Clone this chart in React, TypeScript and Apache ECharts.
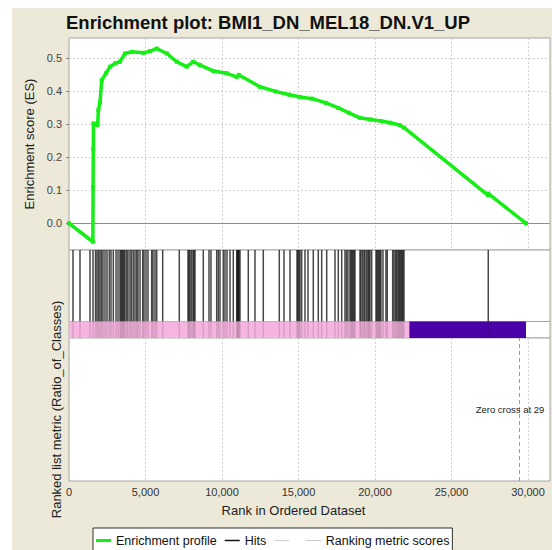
import React, { useEffect, useRef } from "react";
import * as echarts from "echarts";

const FONT = "'Liberation Sans', Arial, Helvetica, sans-serif";

const chartTitle = "Enrichment plot: BMI1_DN_MEL18_DN.V1_UP";
const rankAxisName = "Rank in Ordered Dataset";
const esAxisName = "Enrichment score (ES)";
const metricAxisName = "Ranked list metric (Ratio_of_Classes)";
const zeroCrossText = "Zero cross at 29";

// rank axis
const rankMax = 31440;
const rankStep = 5000;

// enrichment score axis
const esMin = -0.081;
const esMax = 0.562;
const esTicks = [0, 0.1, 0.2, 0.3, 0.4, 0.5];

// running enrichment score
const esRanks = [
  0, 1560, 1575, 1585, 1600, 1870, 1920, 2030, 2140, 2420, 2680, 3010, 3330,
  3660, 4100, 4860, 5300, 5730, 6390, 7040, 7690, 8125, 8560, 9430, 10310,
  10960, 11100, 12480, 13500, 14400, 15100, 15900, 16800, 17600, 18300, 19000,
  19700, 20400, 21000, 21600, 21900, 27400, 27410, 29870,
];
const esValues = [
  0, -0.056, 0.11, 0.225, 0.303, 0.298, 0.343, 0.368, 0.434, 0.455, 0.475,
  0.485, 0.49, 0.515, 0.52, 0.517, 0.522, 0.53, 0.515, 0.49, 0.475, 0.49, 0.48,
  0.462, 0.455, 0.444, 0.45, 0.414, 0.4, 0.39, 0.383, 0.378, 0.365, 0.35, 0.335,
  0.32, 0.315, 0.31, 0.305, 0.298, 0.29, 0.085, 0.09, 0,
];

// positions of gene set members in the ranked list
const hitRanks = [
  261, 719, 1373, 1569, 1732, 1830, 1928, 2026, 2124, 2222, 2353, 2484, 2634,
  2745, 2895, 3072, 3203, 3333, 3399, 3464, 3529, 3595, 3660, 3771, 3856, 3987,
  4085, 4203, 4314, 4425, 4510, 4641, 4817, 4902, 5033, 5163, 5405, 5490, 5621,
  5732, 6124, 7209, 7778, 7843, 7909, 8007, 8105, 8170, 8235, 8778, 9150, 9281,
  9654, 9758, 9869, 10085, 10196, 10327, 10523, 10739, 10961, 11013, 11065,
  11111, 11177, 11719, 12157, 12699, 13745, 14052, 14445, 14902, 14967, 15033,
  15098, 15209, 15425, 15621, 15968, 16294, 16517, 16844, 17386, 17602, 17824,
  18039, 18137, 18235, 18366, 18432, 18497, 18562, 18628, 18693, 19020, 19085,
  19183, 19281, 19347, 19458, 19543, 19608, 19673, 19784, 20066, 20131, 20196,
  20262, 20327, 20392, 20523, 20719, 20804, 21157, 21242, 21340, 21418, 21503,
  21569, 21634, 21700, 21765, 21830, 21896, 27405,
];

// phenotype class bands along the ranked list
const classFrom = [0, 22245];
const classTo = [22245, 29870];

const zeroCrossRank = 29412;

const legendNames = ["Enrichment profile", "Hits", " ", "Ranking metric scores"];

const GREEN = "#16ef16";
const BORDER = "#a4a4a4";
const GRID_LINE = "#d0d0d0";
const CLASS_COLORS = ["#f6b5e0", "#4a02a8"];

function buildOption(): any {
  const grids = [
    { top: 38, height: 212 },
    { top: 250, height: 71.5 },
    { top: 321.5, height: 16.5 },
    { top: 338, height: 143 },
  ].map((g) => ({
    left: 69,
    width: 481,
    top: g.top,
    height: g.height,
    show: true,
    backgroundColor: "#ffffff",
    borderColor: BORDER,
    borderWidth: 1,
    containLabel: false,
    outerBoundsMode: "none",
  }));

  const hiddenX = (i: number, split: boolean) => ({
    gridIndex: i,
    type: "value",
    min: 0,
    max: rankMax,
    interval: rankStep,
    axisLine: { show: false },
    axisTick: { show: false },
    axisLabel: { show: false },
    splitLine: {
      show: split,
      lineStyle: { color: GRID_LINE, type: [2, 2], width: 1 },
    },
  });

  const xAxes = [
    hiddenX(0, true),
    hiddenX(1, false),
    hiddenX(2, false),
    {
      ...hiddenX(3, true),
      axisLabel: {
        show: true,
        showMaxLabel: false,
        margin: 5,
        fontFamily: FONT,
        fontSize: 11,
        color: "#333",
        formatter: (v: number) => v.toLocaleString("en-US"),
      },
      name: rankAxisName,
      nameLocation: "middle",
      nameGap: 23,
      nameTextStyle: {
        fontFamily: FONT,
        fontSize: 13,
        color: "#222",
        padding: [0, 32, 0, 0],
      },
    },
  ];

  const yAxes = [
    {
      gridIndex: 0,
      type: "value",
      min: esMin,
      max: esMax,
      axisLine: { show: false },
      axisTick: {
        show: true,
        length: 3,
        customValues: esTicks,
        lineStyle: { color: "#888" },
      },
      axisLabel: {
        show: true,
        customValues: esTicks,
        margin: 7,
        fontFamily: FONT,
        fontSize: 11,
        color: "#444",
        formatter: (v: number) => v.toFixed(1),
      },
      splitLine: { show: false },
      name: esAxisName,
      nameLocation: "middle",
      nameGap: 30,
      nameTextStyle: { fontFamily: FONT, fontSize: 13, color: "#222" },
    },
    { gridIndex: 1, type: "value", min: 0, max: 1, show: false },
    { gridIndex: 2, type: "value", min: 0, max: 1, show: false },
    {
      gridIndex: 3,
      type: "value",
      min: -1,
      max: 1,
      axisLine: { show: false },
      axisTick: { show: false },
      axisLabel: { show: false },
      splitLine: { show: false },
      name: metricAxisName,
      nameLocation: "middle",
      nameGap: 6,
      nameTextStyle: { fontFamily: FONT, fontSize: 13, color: "#222" },
    },
  ];

  const hitData = hitRanks.map((r) => [r, 1]);

  const hitLine = (opacity: number) => (params: any, api: any) => {
    const top = api.coord([api.value(0), 1]);
    const bottom = api.coord([api.value(0), 0]);
    return {
      type: "line",
      shape: { x1: top[0], y1: top[1], x2: bottom[0], y2: bottom[1] },
      style: { stroke: "#000", lineWidth: 1.5, opacity },
      silent: true,
    };
  };

  const series: any[] = [
    {
      name: legendNames[0],
      type: "line",
      xAxisIndex: 0,
      yAxisIndex: 0,
      data: esRanks.map((r, i) => [r, esValues[i]]),
      color: GREEN,
      lineStyle: { color: GREEN, width: 3.5 },
      itemStyle: { color: GREEN },
      symbol: "rect",
      symbolSize: 4,
      showSymbol: true,
      silent: true,
      z: 5,
      markLine: {
        silent: true,
        symbol: ["none", "none"],
        label: { show: false },
        z: 1,
        data: esTicks.map((v) => ({
          yAxis: v,
          lineStyle:
            v === 0
              ? { color: "#8c8c8c", type: "solid", width: 1 }
              : { color: GRID_LINE, type: [2, 2], width: 1 },
        })),
      },
    },
    {
      name: legendNames[1],
      type: "custom",
      xAxisIndex: 1,
      yAxisIndex: 1,
      data: hitData,
      itemStyle: { color: "#111" },
      renderItem: hitLine(0.72),
      silent: true,
    },
    {
      type: "custom",
      xAxisIndex: 2,
      yAxisIndex: 2,
      data: classFrom.map((f, i) => [f, classTo[i], i]),
      renderItem: (params: any, api: any) => {
        const p0 = api.coord([api.value(0), 1]);
        const p1 = api.coord([api.value(1), 0]);
        return {
          type: "rect",
          shape: { x: p0[0], y: p0[1], width: p1[0] - p0[0], height: p1[1] - p0[1] },
          style: { fill: CLASS_COLORS[api.value(2)] },
          silent: true,
        };
      },
      silent: true,
      z: 2,
    },
    {
      type: "custom",
      xAxisIndex: 2,
      yAxisIndex: 2,
      data: hitData,
      renderItem: hitLine(0.12),
      silent: true,
      z: 3,
    },
    {
      name: legendNames[2],
      type: "line",
      xAxisIndex: 3,
      yAxisIndex: 3,
      data: [[zeroCrossRank, 0]],
      showSymbol: false,
      color: "#d4d4d4",
      lineStyle: { color: "#d4d4d4", width: 1 },
      silent: true,
      markLine: {
        silent: true,
        symbol: ["none", "none"],
        label: { show: false },
        lineStyle: { color: "#9a9a9a", type: [4, 3], width: 1 },
        data: [{ xAxis: zeroCrossRank }],
      },
      markPoint: {
        silent: true,
        symbol: "circle",
        symbolSize: 0,
        data: [{ coord: [zeroCrossRank, 0] }],
        label: {
          show: true,
          position: "inside",
          formatter: zeroCrossText,
          offset: [-9, 0],
          fontFamily: FONT,
          fontSize: 9.5,
          color: "#222",
        },
      },
    },
    {
      name: legendNames[3],
      type: "line",
      xAxisIndex: 3,
      yAxisIndex: 3,
      data: [],
      color: "#c8c8c8",
      lineStyle: { color: "#c8c8c8", width: 1 },
      showSymbol: false,
      silent: true,
    },
  ];

  return {
    animation: false,
    backgroundColor: "transparent",
    title: {
      text: chartTitle,
      left: 66,
      top: 13,
      padding: 0,
      textStyle: {
        fontFamily: FONT,
        fontSize: 18.5,
        fontWeight: "bold",
        color: "#111",
      },
    },
    legend: {
      left: 93,
      top: 528,
      orient: "horizontal",
      selectedMode: false,
      backgroundColor: "#ffffff",
      borderColor: "#333",
      borderWidth: 1,
      borderRadius: 0,
      padding: [6, 3, 14, 3],
      itemGap: 8,
      itemWidth: 15,
      itemHeight: 3,
      textStyle: { fontFamily: FONT, fontSize: 12.5, color: "#111" },
      data: [
        { name: legendNames[0], icon: "path://M0,0H15V3H0Z" },
        { name: legendNames[1], icon: "path://M0,0H15V1.5H0Z" },
        { name: legendNames[2], icon: "path://M0,0H12V1H0Z" },
        { name: legendNames[3], icon: "path://M0,0H15V1H0Z" },
      ],
    },
    grid: grids,
    xAxis: xAxes,
    yAxis: yAxes,
    series,
  };
}

export default function App() {
  const ref = useRef<HTMLDivElement>(null);

  useEffect(() => {
    if (!ref.current) return;
    const chart = echarts.init(ref.current, undefined, { renderer: "svg" });
    chart.setOption(buildOption());
    return () => chart.dispose();
  }, []);

  return (
    <div
      style={{
        position: "fixed",
        left: 0,
        top: 0,
        width: 552,
        height: 550,
        background: "#ffffff",
        overflow: "hidden",
      }}
    >
      <div
        style={{
          position: "absolute",
          left: 12,
          top: 8,
          right: 0,
          bottom: 0,
          background: "#ece9d8",
        }}
      />
      <div
        ref={ref}
        style={{ position: "absolute", left: 0, top: 0, width: 552, height: 550 }}
      />
    </div>
  );
}
